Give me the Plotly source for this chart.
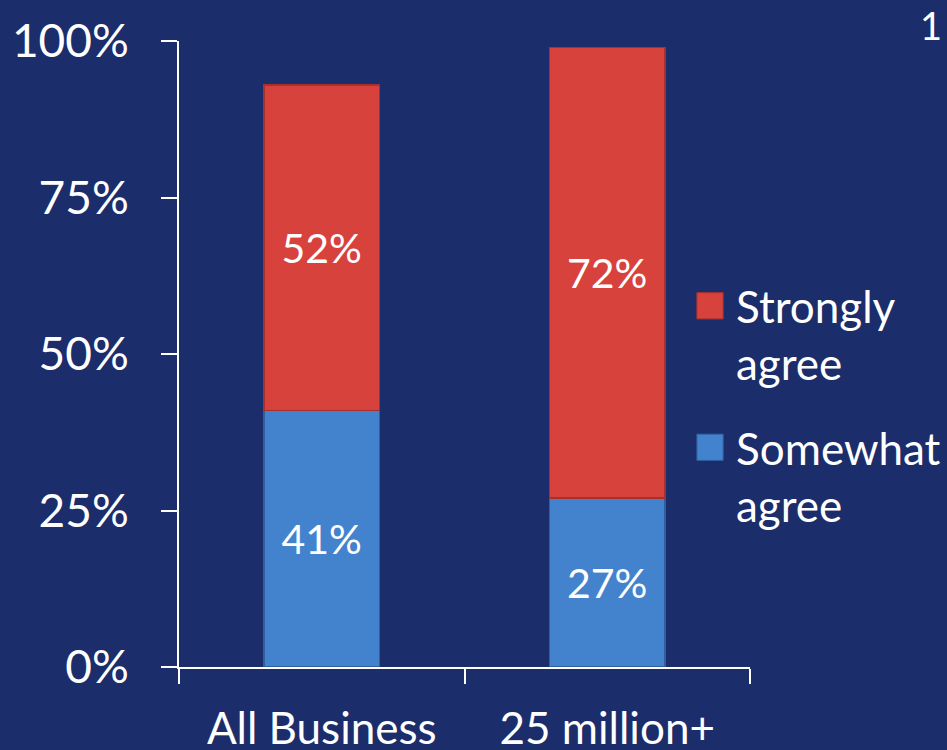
import plotly.graph_objects as go

# Survey agreement shares by company segment (percent of respondents)
categories = ["All Business", "25 million+"]
somewhat_agree = [41, 27]
strongly_agree = [52, 72]
series_names = ["Somewhat agree", "Strongly agree"]
legend_labels = ["Strongly<br>agree", "Somewhat<br>agree"]
y_ticks = [0, 25, 50, 75, 100]
y_tick_labels = ["0%", "25%", "50%", "75%", "100%"]

BG = "#1b2d6b"
BLUE = "#4383cd"
BLUE_EDGE = "#2f5f9e"
RED = "#d8423d"
RED_EDGE = "#a8302c"
FONT = "Lato"

fig = go.Figure()
fig.add_trace(go.Bar(
    name=series_names[0], x=categories, y=somewhat_agree,
    marker=dict(color=BLUE, line=dict(color=BLUE_EDGE, width=1.5)),
    width=0.405,
    text=[f"{v}%" for v in somewhat_agree], textposition="inside",
    insidetextanchor="middle", textangle=0,
    textfont=dict(color="white", size=41, family=FONT),
    showlegend=False,
))
fig.add_trace(go.Bar(
    name=series_names[1], x=categories, y=strongly_agree,
    marker=dict(color=RED, line=dict(color=RED_EDGE, width=1.5)),
    width=0.405,
    text=[f"{v}%" for v in strongly_agree], textposition="inside",
    insidetextanchor="middle", textangle=0,
    textfont=dict(color="white", size=41, family=FONT),
    showlegend=False,
))

# Legend drawn as swatches with two-line labels
legend_colors = [RED, BLUE]
legend_edges = [RED_EDGE, BLUE_EDGE]
swatch_y = [0.577, 0.351]
label_y = [0.531, 0.305]
for lab, col, edge, sy, ly in zip(legend_labels, legend_colors, legend_edges, swatch_y, label_y):
    fig.add_shape(type="rect", xref="paper", yref="paper",
                  x0=0.907, x1=0.953, y0=sy - 0.021, y1=sy + 0.021,
                  fillcolor=col, line=dict(color=edge, width=1))
    fig.add_annotation(xref="paper", yref="paper", x=0.972, y=ly,
                       text=lab, showarrow=False, xanchor="left", yanchor="middle",
                       align="left", font=dict(color="white", size=44, family=FONT))

fig.add_annotation(xref="paper", yref="paper", x=1.34, y=1.065, text="1",
                   showarrow=False, xanchor="right", yanchor="top",
                   font=dict(color="white", size=38, family=FONT))

fig.update_layout(
    barmode="stack",
    width=947, height=750,
    margin=dict(l=179, r=197, t=41, b=83),
    paper_bgcolor=BG, plot_bgcolor=BG,
    font=dict(family=FONT, color="white"),
    bargap=0.6,
)
fig.update_xaxes(
    automargin=False,
    showline=True, linecolor="white", linewidth=2,
    ticks="outside", tickson="boundaries", ticklen=15, tickwidth=2, tickcolor="white",
    ticklabelstandoff=22,
    tickfont=dict(size=44, color="white", family=FONT),
    showgrid=False, zeroline=False,
)
fig.update_yaxes(
    automargin=False,
    range=[0, 100], tickvals=y_ticks, ticktext=y_tick_labels,
    showline=True, linecolor="white", linewidth=2,
    ticks="outside", ticklen=16, tickwidth=2, tickcolor="white",
    ticklabelstandoff=23,
    tickfont=dict(size=46, color="white", family=FONT),
    showgrid=False, zeroline=False,
)

fig.write_html("out.html")
